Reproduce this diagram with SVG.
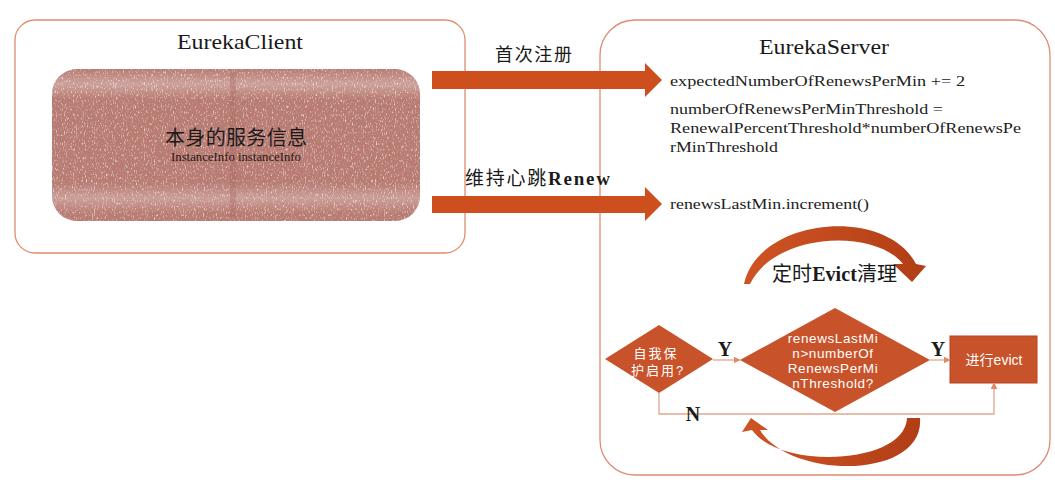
<svg xmlns="http://www.w3.org/2000/svg" width="1055" height="487" viewBox="0 0 1055 487">
<style>
.box{fill:#fff;stroke:#e08c70;stroke-width:1.3}
.fat{fill:#cf4e1e}
.shape{fill:#c8532b}
.title{font-family:"Liberation Serif",serif;font-size:21px;fill:#1a1a1a}
.code{font-family:"Liberation Serif",serif;font-size:15.5px;fill:#222}
.cn{font-family:"Noto Sans CJK SC","Liberation Sans",sans-serif;fill:#1a1a1a}
.wt{font-family:"Liberation Sans","Noto Sans CJK SC",sans-serif;fill:#fff;text-anchor:middle}
.yn{font-family:"Liberation Serif",serif;font-weight:bold;font-size:20px;fill:#1a1a1a;text-anchor:middle}
.conn{fill:none;stroke:#e3a68e;stroke-width:1.3}
.arc{fill:url(#arcg)}
</style>
<defs>
<marker id="ah" viewBox="0 0 10 10" refX="9" refY="5" markerWidth="7" markerHeight="7" orient="auto" markerUnits="userSpaceOnUse">
<path d="M0,0 L10,5 L0,10 Z" fill="#e08a6a"/>
</marker>
<linearGradient id="arcg" x1="0" y1="0" x2="1" y2="0">
<stop offset="0" stop-color="#cf5424"/>
<stop offset="1" stop-color="#b23e16"/>
</linearGradient>
<filter id="grain" x="0" y="0" width="1" height="1">
<feTurbulence type="fractalNoise" baseFrequency="0.9 0.35" numOctaves="2" seed="4"/>
<feColorMatrix type="matrix" values="0 0 0 0 1  0 0 0 0 1  0 0 0 0 1  0 0 0 2.2 -1.2"/>
<feComposite in2="SourceGraphic" operator="in"/>
</filter>
<linearGradient id="band" x1="0" y1="0" x2="0" y2="1">
<stop offset="0" stop-color="#fff" stop-opacity="0.05"/>
<stop offset="0.1" stop-color="#fff" stop-opacity="0.32"/>
<stop offset="0.2" stop-color="#fff" stop-opacity="0.05"/>
<stop offset="0.75" stop-color="#fff" stop-opacity="0.05"/>
<stop offset="0.85" stop-color="#fff" stop-opacity="0.3"/>
<stop offset="0.95" stop-color="#fff" stop-opacity="0.05"/>
</linearGradient>
</defs>

<g id="client">
<rect class="box" x="15" y="20" width="450" height="233" rx="20"/>
<text class="title" x="240" y="49" text-anchor="middle" textLength="126" lengthAdjust="spacingAndGlyphs">EurekaClient</text>
</g>

<g id="client-info">
<rect x="52" y="69" width="368" height="152" rx="25" fill="#b4756c"/>
<rect x="52" y="69" width="368" height="152" rx="25" fill="url(#band)"/>
<rect x="52" y="69" width="368" height="152" rx="25" fill="#fff" filter="url(#grain)"/>
<rect x="230" y="72" width="6" height="146" fill="#a8675e" opacity="0.35"/>
<text class="cn" x="236" y="145" font-size="20" text-anchor="middle" textLength="142" lengthAdjust="spacing">本身的服务信息</text>
<text x="236" y="161" font-family="Liberation Serif,serif" font-size="12" fill="#2a1a15" text-anchor="middle" textLength="130" lengthAdjust="spacingAndGlyphs">InstanceInfo instanceInfo</text>
</g>

<g id="server">
<rect class="box" x="600" y="20" width="450" height="455" rx="35"/>
<text class="title" x="824" y="54" text-anchor="middle" textLength="130" lengthAdjust="spacingAndGlyphs">EurekaServer</text>
<text class="code" x="670" y="86" textLength="295" lengthAdjust="spacingAndGlyphs">expectedNumberOfRenewsPerMin += 2</text>
<text class="code" x="670" y="114" textLength="273" lengthAdjust="spacingAndGlyphs">numberOfRenewsPerMinThreshold =</text>
<text class="code" x="670" y="133" textLength="351" lengthAdjust="spacingAndGlyphs">RenewalPercentThreshold*numberOfRenewsPe</text>
<text class="code" x="670" y="152" textLength="108" lengthAdjust="spacingAndGlyphs">rMinThreshold</text>
<text class="code" x="670" y="209" textLength="199" lengthAdjust="spacingAndGlyphs">renewsLastMin.increment()</text>
</g>

<g id="evict-loop">
<path class="arc" d="M744,284 C758,218 885,205 916,264 L926,266 L912,282 L893,264 L903,264 C875,228 775,232 750,284 Z"/>
<text class="cn" x="772" y="281" font-size="20" textLength="125" lengthAdjust="spacing"><tspan>定时</tspan><tspan font-family="Liberation Serif,serif" font-weight="bold">Evict</tspan><tspan>清理</tspan></text>
<path class="arc" d="M920,418 C925,480 790,480 760,430 L768,430 L751,418 L742,432 L752,430 C780,470 905,465 907,418 Z"/>
</g>

<g id="self-protect">
<polygon class="shape" points="605,359 659,325 713,359 659,393"/>
<text class="wt" x="656" y="358" font-size="13" letter-spacing="2">自我保</text>
<text class="wt" x="658" y="375" font-size="13" letter-spacing="2">护启用?</text>
</g>

<g id="threshold-check">
<polygon class="shape" points="740,360 835,308 930,360 835,412"/>
<text class="wt" x="833" y="343" font-size="13.5" letter-spacing="0.6">renewsLastMi</text>
<text class="wt" x="833" y="358" font-size="13.5" letter-spacing="0.6">n&gt;numberOf</text>
<text class="wt" x="833" y="373" font-size="13.5" letter-spacing="0.6">RenewsPerMi</text>
<text class="wt" x="833" y="388" font-size="13.5" letter-spacing="0.6">nThreshold?</text>
</g>

<g id="do-evict">
<rect x="950" y="336" width="87" height="47" fill="#c8532b" stroke="#b84520" stroke-width="1"/>
<text class="wt" x="994" y="365" font-size="14">进行evict</text>
</g>

<g id="connectors">
<path class="fat" d="M432,71 H645 V63 L662,80 L645,97 V89 H432 Z"/>
<path class="fat" d="M432,196 H645 V187 L662,204 L645,221 V213 H432 Z"/>
<text class="cn" x="495" y="61" font-size="18" textLength="77" lengthAdjust="spacing">首次注册</text>
<text class="cn" x="465" y="185" font-size="19" textLength="145" lengthAdjust="spacing"><tspan>维持心跳</tspan><tspan font-family="Liberation Serif,serif" font-weight="bold">Renew</tspan></text>
<line class="conn" x1="713" y1="360" x2="740" y2="360" marker-end="url(#ah)"/>
<line class="conn" x1="930" y1="360" x2="950" y2="360" marker-end="url(#ah)"/>
<path class="conn" d="M659,393 V414 H994 V383" marker-end="url(#ah)"/>
<text class="yn" x="725" y="356">Y</text>
<text class="yn" x="938" y="356">Y</text>
<text class="yn" x="693" y="421">N</text>
</g>
</svg>
